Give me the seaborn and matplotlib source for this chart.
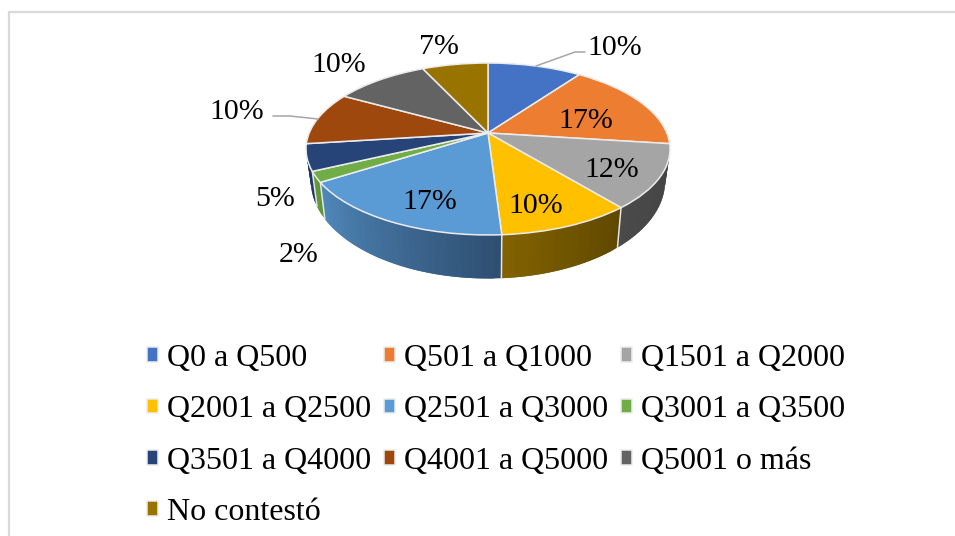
import matplotlib
matplotlib.use("Agg")
import matplotlib.pyplot as plt
from matplotlib.transforms import Transform
import numpy as np
import seaborn as sns

categories = ["Q0 a Q500", "Q501 a Q1000", "Q1501 a Q2000", "Q2001 a Q2500", "Q2501 a Q3000",
              "Q3001 a Q3500", "Q3501 a Q4000", "Q4001 a Q5000", "Q5001 o más", "No contestó"]
values = [10, 17, 12, 10, 17, 2, 5, 10, 10, 7]
colors = ["#4472C4", "#ED7D31", "#A5A5A5", "#FFC000", "#5B9BD5",
          "#70AD47", "#264478", "#9E480E", "#636363", "#997300"]
wall_left = ["#2f4f88", "#a55722", "#4a4a4a", "#826200", "#5088ba",
             "#669c40", "#1f3864", "#6e320a", "#454545", "#6b5000"]
wall_right = ["#2f4f88", "#a55722", "#434343", "#5f4800", "#2f4f72",
              "#5f9438", "#1f3864", "#6e320a", "#454545", "#6b5000"]
label_x = [615, 586, 612, 536, 430, 299, 275, 237, 339, 439]
label_y = [48, 121, 170, 206, 202, 255, 199, 112, 65, 47]

sns.set_theme(style="white")
plt.rcParams["font.family"] = ["Liberation Serif", "DejaVu Serif"]


class Tilt(Transform):
    # unit circle -> pixels, with a little perspective
    input_dims = 2
    output_dims = 2
    is_separable = False

    def __init__(self, cx, cy, bx, by, k=0.186):
        super().__init__()
        self.cx, self.cy, self.bx, self.by, self.k = cx, cy, bx, by, k

    def transform_non_affine(self, values):
        pts = np.asarray(values, dtype=float)
        w = 1 + self.k * pts[:, 1]
        return np.column_stack([self.cx + self.bx * pts[:, 0] / w,
                                self.cy - self.by * pts[:, 1] / w])


top = Tilt(488, 133, 178.8, 83)
bottom = Tilt(488, 163, 174, 94)

fig = plt.figure(figsize=(9.55, 5.36), dpi=100)
ax = fig.add_axes([0, 0, 1, 1])

wedges, _ = ax.pie(values, startangle=90, counterclock=False, radius=1,
                   colors=sns.color_palette(colors),
                   wedgeprops={"edgecolor": "#ececec", "linewidth": 1.1})
ax.set_aspect("auto")
ax.set_xlim(0, 955)
ax.set_ylim(536, 0)
ax.axis("off")

for w in wedges:
    w.set_transform(top + ax.transData)
    w.set_zorder(3)
    w.set_clip_on(False)

# side wall, cut in thin strips so the shade can run along it
edges = 90 - np.cumsum([0] + values) * 3.6
for i in range(len(values)):
    steps = max(int(values[i] * 2), 4)
    thetas = np.radians(np.linspace(edges[i], edges[i + 1], steps + 1))
    # clockwise on the front runs right to left, so the shade is flipped
    shades = sns.blend_palette([wall_left[i], wall_right[i]], steps)[::-1]
    for j in range(steps):
        # each strip runs on under the next one, no seams that way
        t = np.linspace(thetas[j], thetas[min(j + 2, steps)], 6)
        ring = np.column_stack([np.cos(t), np.sin(t)])
        up = top.transform(ring)
        down = bottom.transform(ring)[::-1]
        poly = np.vstack([up, down])
        ax.fill(poly[:, 0], poly[:, 1], facecolor=shades[j], edgecolor="none", lw=0, zorder=1)

# lines between the front walls
for e in edges:
    t = np.radians(e)
    p = np.array([[np.cos(t), np.sin(t)]])
    if p[0, 1] < -0.3:
        a = top.transform(p)[0]
        b = bottom.transform(p)[0]
        ax.plot([a[0], b[0]], [a[1], b[1]], color="#e4e4e4", lw=1.1, zorder=2)

for x, y, v in zip(label_x, label_y, values):
    ax.text(x, y, f"{v}%", ha="center", va="center", fontsize=21.5, color="black", zorder=5)

ax.plot([536, 575, 585], [66, 52, 52], color="#a6a6a6", lw=1.1, zorder=4)
ax.plot([273, 290, 318], [116, 116, 119], color="#a6a6a6", lw=1.1, zorder=4)

# chart frame, cut off by the page on the right and bottom
ax.plot([9, 9, 955], [536, 12, 12], color="#d9d9d9", lw=1.6, zorder=0)

# legend fills by column, the chart reads by row
order = [0, 3, 6, 9, 1, 4, 7, 2, 5, 8]
ax.legend([wedges[i] for i in order], [categories[i] for i in order], ncols=3,
          loc="upper left", bbox_to_anchor=(147 / 955, 1 - 344 / 536),
          bbox_transform=ax.transAxes, frameon=False, fontsize=23, labelcolor="black",
          handlelength=0.33, handleheight=0.33, handletextpad=0.3,
          columnspacing=0.4, labelspacing=0.7, borderpad=0, borderaxespad=0)

fig.savefig("out.png", dpi=100)
